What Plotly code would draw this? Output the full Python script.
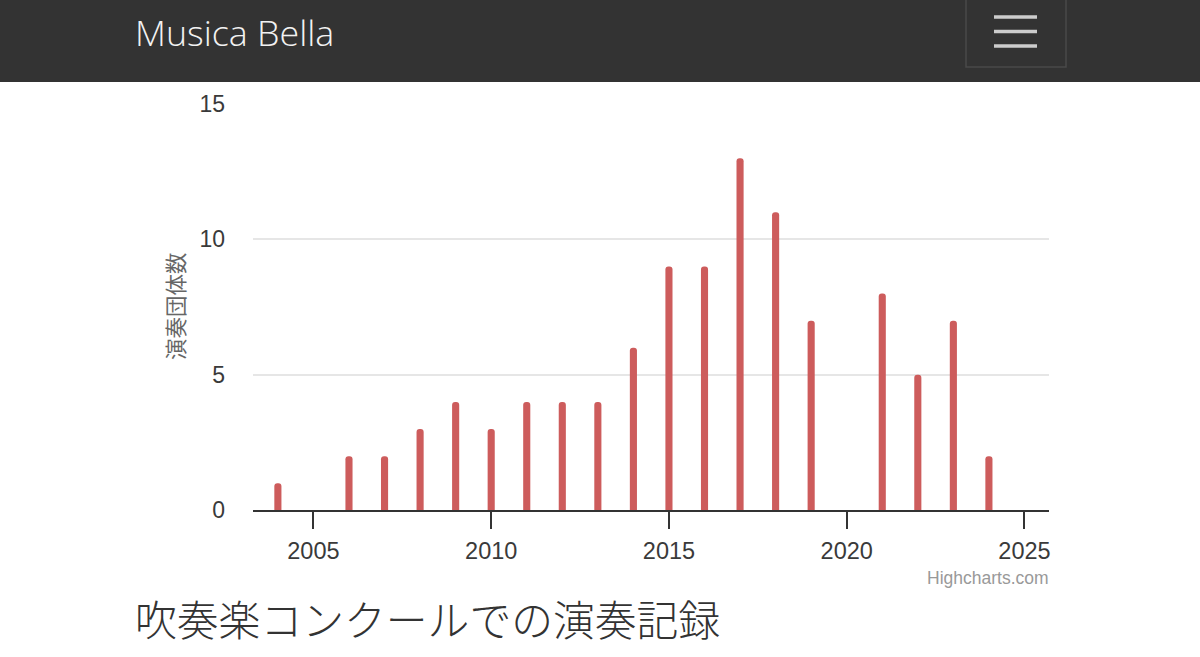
import plotly.graph_objects as go

W, H = 1200, 657

years = [2004, 2006, 2007, 2008, 2009, 2010, 2011, 2012, 2013, 2014, 2015, 2016, 2017, 2018, 2019, 2021, 2022, 2023, 2024]
counts = [1, 2, 2, 3, 4, 3, 4, 4, 4, 6, 9, 9, 13, 11, 7, 8, 5, 7, 2]
x_ticks = [2005, 2010, 2015, 2020, 2025]
y_ticks = [0, 5, 10, 15]

site_name = "Musica Bella"
y_title = "演奏団体数"
credit = "Highcharts.com"
heading = "吹奏楽コンクールでの演奏記録"


# pixel position -> paper coords
def px(x):
    return x / W


def py(y):
    return 1 - y / H


fig = go.Figure()
fig.add_trace(go.Bar(x=years, y=counts, width=0.2, marker=dict(color="#cd5c5c", line_width=0),
                     showlegend=False))

# nav bar and hamburger button
shapes = [
    dict(type="rect", xref="paper", yref="paper", x0=0, x1=1, y0=py(82), y1=1,
         fillcolor="#333333", line_width=0, layer="below"),
    dict(type="rect", xref="paper", yref="paper", x0=px(966), x1=px(1066), y0=py(67), y1=py(-5),
         fillcolor="rgba(0,0,0,0)", line=dict(color="#4a4a4a", width=1.5)),
]
for y in [17, 31.5, 46]:
    shapes.append(dict(type="line", xref="paper", yref="paper", x0=px(994), x1=px(1037), y0=py(y), y1=py(y),
                       line=dict(color="#cccccc", width=3.5)))

annotations = [
    dict(text=site_name, x=px(133.5), y=py(32), xanchor="left", yanchor="middle",
         font=dict(family="Open Sans", size=35.8, color="#f2f2f2", weight=300)),
    dict(text=y_title, x=px(174), y=py(306), xanchor="center", yanchor="middle", textangle=-90,
         font=dict(family="Noto Sans CJK JP", size=21.5, color="#666666")),
    dict(text=credit, x=px(1050), y=py(578), xanchor="right", yanchor="middle",
         font=dict(family="Liberation Sans", size=17.5, color="#999999")),
    dict(text=heading, x=px(133.5), y=py(618), xanchor="left", yanchor="middle",
         font=dict(family="Noto Sans CJK JP", size=41.8, color="#333333", weight=300)),
]
for a in annotations:
    a.update(xref="paper", yref="paper", showarrow=False, borderpad=0)

fig.update_layout(
    width=W, height=H,
    margin=dict(l=0, r=0, t=0, b=0, autoexpand=False),
    paper_bgcolor="white", plot_bgcolor="white",
    barcornerradius=3.5,
    shapes=shapes, annotations=annotations,
    font=dict(family="Liberation Sans", size=23.5, color="#3a3a3a"),
    xaxis=dict(domain=[px(253), px(1049)], range=[2003.3, 2025.69], tickvals=x_ticks,
               ticks="outside", ticklen=17, tickwidth=1.5, tickcolor="#333333",
               showgrid=False, showline=True, linecolor="#333333", linewidth=1.5, zeroline=False,
               ticklabelstandoff=2, automargin=False),
    yaxis=dict(domain=[py(510.3), py(104)], range=[0, 15], tickvals=y_ticks,
               gridcolor="#e6e6e6", gridwidth=1.5, zeroline=False, ticks="",
               tickfont_size=23, ticklabelstandoff=27, automargin=False),
)

fig.write_html("out.html", config=dict(displayModeBar=False), post_script="document.body.style.margin='0';")
